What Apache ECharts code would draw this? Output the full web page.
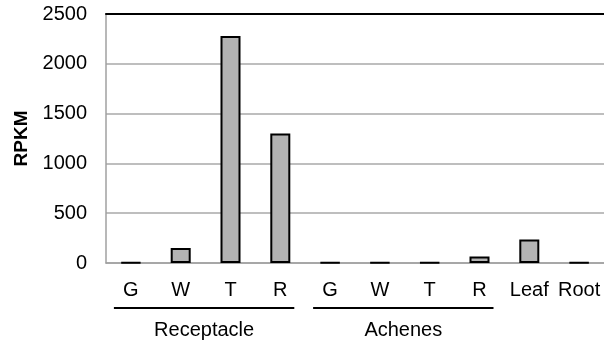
<!DOCTYPE html>
<html>
<head>
<meta charset="utf-8">
<script src="https://cdn.jsdelivr.net/npm/echarts@6/dist/echarts.min.js"></script>
<style>html,body{margin:0;padding:0;background:#fff}#c{width:604px;height:344px}</style>
</head>
<body>
<div id="c"></div>
<script>
var categories = ['G', 'W', 'T', 'R', 'G', 'W', 'T', 'R', 'Leaf', 'Root'];
var values = [6, 150, 2280, 1300, 5, 5, 5, 65, 235, 5];
var yTicks = [0, 500, 1000, 1500, 2000, 2500];
var groups = [
  { name: 'Receptacle', from: 0, to: 3 },
  { name: 'Achenes', from: 4, to: 7 }
];

var font = 'Liberation Sans, Arial, sans-serif';
var chart = echarts.init(document.getElementById('c'));
var option = {
  animation: false,
  grid: { left: 106, top: 14, width: 500, height: 249 },
  xAxis: [{
    type: 'category',
    data: categories,
    axisLine: { lineStyle: { color: '#a0a0a0', width: 1.5 } },
    axisTick: { show: false },
    axisLabel: { color: '#000', fontSize: 20, fontFamily: font, margin: 17, interval: 0 }
  }, {
    type: 'category',
    position: 'top',
    data: categories,
    axisLine: { lineStyle: { color: '#000', width: 2 } },
    axisTick: { show: false },
    axisLabel: { show: false }
  }],
  yAxis: {
    type: 'value',
    min: yTicks[0],
    max: yTicks[yTicks.length - 1],
    interval: 500,
    name: 'RPKM',
    nameLocation: 'middle',
    nameGap: 74,
    nameTextStyle: { color: '#000', fontSize: 19, fontWeight: 'bold', fontFamily: font },
    axisLine: { show: true, lineStyle: { color: '#a0a0a0', width: 1.5 } },
    axisTick: { show: false },
    splitLine: { lineStyle: { color: '#a8a8a8', width: 1.5 } },
    axisLabel: { color: '#000', fontSize: 20, fontFamily: font, margin: 19,
      formatter: function (v) { return String(v); } }
  },
  series: [{
    type: 'bar',
    data: values,
    barWidth: 20,
    itemStyle: { color: '#b3b3b3', borderColor: '#000', borderWidth: 2 }
  }]
};
chart.setOption(option);

var g = [];
groups.forEach(function (gr) {
  var x0 = chart.convertToPixel({ xAxisIndex: 0 }, gr.from);
  var x1 = chart.convertToPixel({ xAxisIndex: 0 }, gr.to);
  g.push({
    type: 'line',
    shape: { x1: x0 - 17, y1: 308, x2: x1 + 14, y2: 308 },
    style: { stroke: '#000', lineWidth: 2 }
  });
  g.push({
    type: 'text',
    x: (x0 + x1) / 2 - 1.5,
    y: 330,
    style: { text: gr.name, fill: '#000', fontSize: 20, fontFamily: font, align: 'center', verticalAlign: 'middle' }
  });
});
chart.setOption({ graphic: g });
</script>
</body>
</html>
